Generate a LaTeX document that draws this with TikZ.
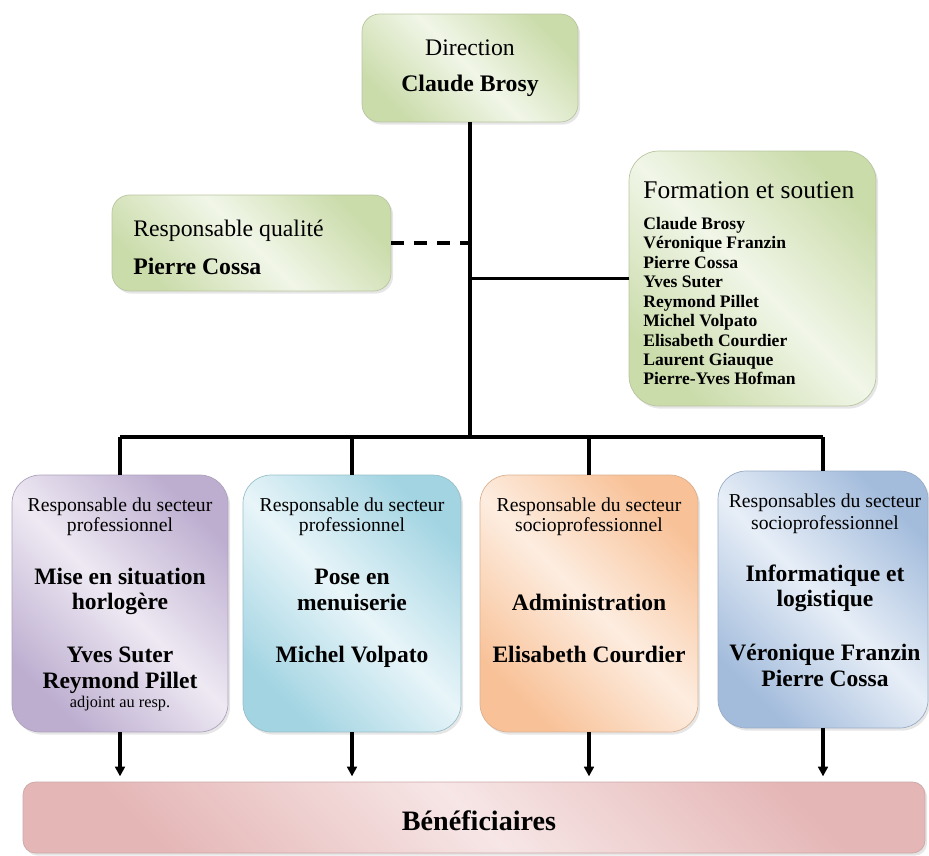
\documentclass[tikz,border=0pt]{standalone}
\usepackage{fontspec}
\setmainfont{Liberation Serif}
\usetikzlibrary{arrows.meta,shadows}

\definecolor{vertbord}{HTML}{CBDCAB}
\definecolor{vertclair}{HTML}{F1F6E8}
\definecolor{violetbord}{HTML}{BDAED0}
\definecolor{violetclair}{HTML}{EEE9F3}
\definecolor{cyanbord}{HTML}{A2D4E2}
\definecolor{cyanclair}{HTML}{E8F5F9}
\definecolor{orangebord}{HTML}{F8C197}
\definecolor{orangeclair}{HTML}{FDEDE0}
\definecolor{bleubord}{HTML}{A3BCDC}
\definecolor{bleuclair}{HTML}{E7EEF7}
\definecolor{rosebord}{HTML}{E5B6B6}
\definecolor{roseclair}{HTML}{F7E6E6}

\newcommand{\fonttexte}{\fontsize{13.5}{16}\selectfont}
\newcommand{\fonttitreform}{\fontsize{14.5}{17}\selectfont}
\newcommand{\fontnom}{\fontsize{10}{12}\selectfont\bfseries}
\newcommand{\fontresp}{\fontsize{11.2}{13}\selectfont}
\newcommand{\fontsecteur}{\fontsize{13.4}{16}\selectfont\bfseries}
\newcommand{\fontadjoint}{\fontsize{9.3}{11}\selectfont}
\newcommand{\fontbenef}{\fontsize{16}{19}\selectfont\bfseries}

\tikzset{
  boite/.style={draw=#1bord!75!gray, line width=0.4pt, inner sep=0pt,
    left color=#1bord, right color=#1bord, middle color=#1clair,
    shading angle=135,
    drop shadow={opacity=0.2, shadow xshift=1.2pt, shadow yshift=-1.5pt}},
  lien/.style={line width=1.9pt},
  lienpoint/.style={line width=1.9pt, dash pattern=on 7.4pt off 5.6pt},
  fleche/.style={line width=1.9pt, -{Triangle[length=5.5pt,width=5.5pt]}, shorten >=3pt},
  texte/.style={anchor=base, inner sep=0pt},
}

\begin{document}
\begin{tikzpicture}[x=0.02cm, y=-0.02cm]
\useasboundingbox (0,0) rectangle (929,855);

% boites
\node[boite=vert, rounded corners=10pt, minimum width=4.32cm, minimum height=2.16cm] (direction) at (470,68) {};
\node[boite=vert, rounded corners=10pt, minimum width=5.58cm, minimum height=1.92cm] (qualite) at (251.5,243) {};
\node[boite=vert, rounded corners=17pt, minimum width=4.94cm, minimum height=5.10cm] (formation) at (752.5,278.5) {};
\node[boite=violet, rounded corners=16pt, minimum width=4.32cm, minimum height=5.14cm] (horlogerie) at (120,603.5) {};
\node[boite=cyan, rounded corners=16pt, minimum width=4.36cm, minimum height=5.14cm] (menuiserie) at (352,603.5) {};
\node[boite=orange, rounded corners=16pt, minimum width=4.36cm, minimum height=5.14cm] (administration) at (589,603.5) {};
\node[boite=bleu, rounded corners=16pt, minimum width=4.20cm, minimum height=5.14cm] (informatique) at (823,599.5) {};
\node[boite=rose, rounded corners=7pt, minimum width=18.04cm, minimum height=1.42cm] (beneficiaires) at (474,817.5) {};

% direction
\node[texte] (dir-a) at (470,55.7) {\fonttexte Direction};
\node[texte] (dir-b) at (470,91.7) {\fonttexte\bfseries Claude Brosy};

% qualite
\node[texte, anchor=base west] (qual-a) at (133,236.7) {\fonttexte Responsable qualité};
\node[texte, anchor=base west] (qual-b) at (133,274) {\fonttexte\bfseries Pierre Cossa};

% formation et soutien
\node[texte, anchor=base west] (form-titre) at (643,198) {\fonttitreform Formation et soutien};
\foreach \nom [count=\i from 0] in {Claude Brosy, Véronique Franzin, Pierre Cossa, Yves Suter,
    Reymond Pillet, Michel Volpato, Elisabeth Courdier, Laurent Giauque, Pierre-Yves Hofman}
  \node[texte, anchor=base west] (nom\i) at (643,229.3+19.46*\i) {\fontnom \nom};

% secteurs
\node[texte] (hor-a) at (120,511.7) {\fontresp Responsable du secteur};
\node[texte] (hor-b) at (120,531.5) {\fontresp professionnel};
\node[texte] (hor-c) at (120,584) {\fontsecteur Mise en situation};
\node[texte] (hor-d) at (120,609) {\fontsecteur horlogère};
\node[texte] (hor-e) at (120,662.3) {\fontsecteur Yves Suter};
\node[texte] (hor-f) at (120,688.3) {\fontsecteur Reymond Pillet};
\node[texte] (hor-g) at (120,707.3) {\fontadjoint adjoint au resp.};

\node[texte] (men-a) at (352,511.7) {\fontresp Responsable du secteur};
\node[texte] (men-b) at (352,531.5) {\fontresp professionnel};
\node[texte] (men-c) at (352,584) {\fontsecteur Pose en};
\node[texte] (men-d) at (352,610) {\fontsecteur menuiserie};
\node[texte] (men-e) at (352,662.3) {\fontsecteur Michel Volpato};

\node[texte] (adm-a) at (589,511.7) {\fontresp Responsable du secteur};
\node[texte] (adm-b) at (589,531.5) {\fontresp socioprofessionnel};
\node[texte] (adm-c) at (589,610) {\fontsecteur Administration};
\node[texte] (adm-d) at (589,662.3) {\fontsecteur Elisabeth Courdier};

\node[texte] (inf-a) at (825,507.7) {\fontresp Responsables du secteur};
\node[texte] (inf-b) at (825,529.3) {\fontresp socioprofessionnel};
\node[texte] (inf-c) at (825,581.7) {\fontsecteur Informatique et};
\node[texte] (inf-d) at (825,606.7) {\fontsecteur logistique};
\node[texte] (inf-e) at (825,660) {\fontsecteur Véronique Franzin};
\node[texte] (inf-f) at (825,686) {\fontsecteur Pierre Cossa};

\node[texte] (ben-a) at (479,830) {\fontbenef Bénéficiaires};

% liens
\coordinate (bus) at (470,437);
\draw[lien] (direction.south) -- (bus);
\draw[lien] (horlogerie.north |- bus) -- (informatique.north |- bus);
\draw[lienpoint] (qualite.east) -- (qualite.east -| direction.south);
\draw[lien] (formation.west -| direction.south) -- (formation.west);
\foreach \b in {horlogerie, menuiserie, administration, informatique} {
  \draw[lien] (\b.north |- bus) -- (\b.north);
  \draw[fleche] (\b.south) -- (\b.south |- beneficiaires.north);
}
\end{tikzpicture}
\end{document}
